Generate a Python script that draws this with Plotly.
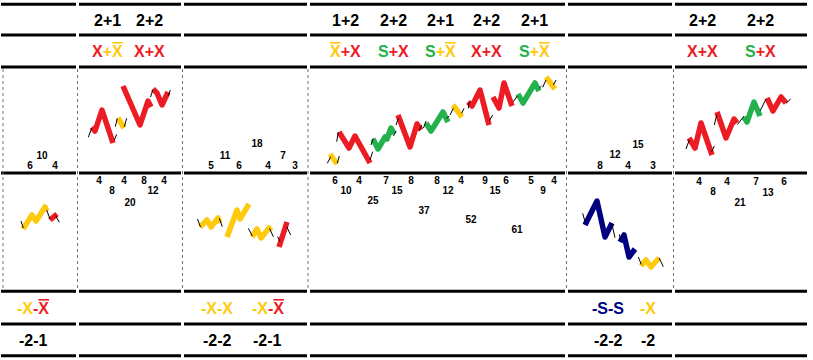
import plotly.graph_objects as go

RED = "#ED1C24"
YEL = "#FFC90E"
GRN = "#22B14C"
NAV = "#000080"

# ---------------- wave segments (x = time position, y = price level, screen-down) ----------------
up2_x = [[92, 95, 102, 113], [118, 124], [123, 140, 148, 151], [153, 157, 162, 168]]
up2_y = [[127, 131, 110, 143], [118, 128], [86, 125, 101, 107], [89, 93, 105, 92]]
up2_c = [RED, YEL, RED, RED]

up4_x = [[330, 337], [339, 349, 355, 370], [373, 378, 385, 387, 391, 394], [398, 410, 417, 421],
         [426, 431, 443, 448], [453, 462], [468, 472, 480, 489], [493, 499, 504, 512],
         [518, 523, 535, 539], [546, 555]]
up4_y = [[154, 164], [132, 148, 136, 163], [139, 149, 137, 139, 128, 134], [115, 147, 124, 130],
         [123, 131, 112, 122], [105, 117], [102, 106, 90, 125], [97, 108, 83, 106],
         [94, 103, 83, 91], [77, 89]]
up4_c = [YEL, RED, GRN, RED, GRN, YEL, RED, RED, GRN, YEL]

up6_x = [[689, 695, 701, 712], [717, 726, 734, 737], [744, 747, 754, 760], [767, 773, 781, 786]]
up6_y = [[138, 148, 123, 155], [112, 138, 119, 123], [117, 122, 102, 116], [98, 111, 97, 103]]
up6_c = [RED, RED, GRN, RED]

dn1_x = [[23, 32, 36, 45, 47], [50, 57]]
dn1_y = [[229, 215, 221, 207, 211], [220, 214]]
dn1_c = [YEL, RED]

dn3_x = [[200, 207, 211, 218, 220], [227, 237, 240, 249], [252, 257, 261, 269, 271], [279, 287]]
dn3_y = [[227, 220, 227, 218, 223], [237, 210, 219, 204], [237, 229, 238, 228, 231], [247, 222]]
dn3_c = [YEL, YEL, YEL, RED]

dn5_x = [[585, 597, 605, 612], [620, 624, 629, 635], [641, 646, 651, 659]]
dn5_y = [[225, 201, 237, 223], [242, 235, 257, 249], [266, 260, 267, 258]]
dn5_c = [NAV, NAV, YEL]

# thin black link ticks: (x0, y0, x1, y1)
ticks = [
    (21, 221, 23.3, 228), (46.7, 210, 50, 219), (55.7, 215.7, 59.3, 222.3),
    (88.3, 137.3, 91.7, 128.3), (114.3, 140, 116.7, 134.3), (115.3, 126.7, 117.3, 118.3),
    (124.3, 126.7, 126.7, 118.3), (150.5, 97, 153, 89.5), (168.3, 95.7, 170.3, 90),
    (197.5, 219, 200.5, 227), (219.3, 218.3, 222.3, 226.7), (248.3, 228.3, 252.3, 236),
    (269.5, 228.3, 273.3, 236.7), (277.7, 236.7, 280, 241.7), (286.7, 226.7, 290.7, 235),
    (327.3, 163.3, 330.7, 156.7), (337.3, 163.3, 339.3, 156), (336.7, 141.7, 338.3, 132),
    (370, 160, 372.7, 151.7), (371, 145, 373.3, 138.3), (393.5, 136, 396, 131),
    (396, 125, 398.3, 118.3), (419.3, 130.7, 421.7, 125), (423.5, 128, 426, 121),
    (446.7, 118.3, 449.3, 116), (450, 115, 453.3, 108.3), (461.7, 113.3, 464, 108.3),
    (468.3, 108.3, 469.3, 101.7), (489.3, 120.7, 492.7, 115), (513.3, 101.7, 517.3, 96),
    (539.3, 88, 541.5, 86), (542.7, 87.3, 546, 80), (553.3, 85, 556, 80),
    (582.7, 213.3, 585, 221.7), (611.7, 223.3, 615, 237.7), (619.3, 234.3, 620.7, 240),
    (638.3, 257, 641.3, 264.5), (659, 257.7, 663.3, 266.7),
    (686, 149, 689.3, 140), (711.7, 151.7, 714.3, 146), (714.3, 125, 716.7, 115),
    (737.5, 124.5, 744, 116), (760, 111, 766, 99), (786, 103.3, 790.7, 99),
]

# ---------------- count numbers ----------------
num_up_vals = [6, 10, 4, 5, 11, 6, 18, 4, 7, 3, 8, 12, 4, 15, 3]
num_up_x = [30, 42, 55, 211, 225, 239, 257, 268, 283, 295, 600, 615, 628, 638, 653]
num_up_y = [166, 156, 166, 166, 156, 166, 144.5, 166, 156, 166, 166, 155, 166, 145, 166]

num_dn_vals = [4, 8, 4, 20, 8, 12, 4,
               6, 10, 4, 25, 7, 15, 8, 37, 8, 12, 4, 52, 9, 15, 6, 61, 5, 9, 4,
               4, 8, 4, 21, 7, 13, 6]
num_dn_x = [99, 112, 124, 130, 144, 153, 164,
            335, 346, 359, 373, 386, 397, 411, 424, 437, 448, 461, 471, 485, 495, 506, 517, 531, 543, 554,
            699, 713, 727, 740, 756, 768, 784]
num_dn_y = [181, 191, 181, 203, 181, 191, 181,
            181, 191, 181, 201, 181, 191, 181, 211, 181, 191, 181, 220.5, 181, 191.5, 181, 230, 181, 191, 181,
            182, 192, 182, 203, 182, 193, 182]

# ---------------- header / footer labels ----------------
up_count_labels = ["2+1", "2+2", "1+2", "2+2", "2+1", "2+2", "2+1", "2+2", "2+2"]
up_type_labels = ["X+X\u0304", "X+X", "X\u0304+X", "S+X", "S+X\u0304", "X+X", "S+X\u0304", "X+X", "S+X"]
up_label_x = [107.5, 149.5, 345, 393, 440, 486, 534.5, 702, 760]

dn_type_labels = ["-X-X\u0304", "-X-X", "-X-X\u0304", "-S-S", "-X"]
dn_count_labels = ["-2-1", "-2-2", "-2-1", "-2-2", "-2"]
dn_label_x = [33, 217, 267.5, 608, 648]

UP_COL = {"X": RED, "X\u0304": YEL, "S": GRN}
DN_COL = {"X": YEL, "X\u0304": RED, "S": NAV}

rule_y = [4.2, 35, 67, 173, 291.3, 324, 355.8]
col_edges = [(1, 76), (79, 181), (184, 307), (310, 565), (568, 672), (675, 807)]
grid_x = [3, 77.5, 182.5, 308, 566.5, 673.5]


def symbols(lbl):
    out = []
    for ch in lbl:
        if ch == "\u0304":
            out[-1] = out[-1] + ch
        else:
            out.append(ch)
    return out


def render(lbl, cmap):
    syms = symbols(lbl)
    parts = []
    for i, s in enumerate(syms):
        if s in "+-":
            col = cmap[syms[i + 1]]
            parts.append(f"<span style='color:{col}'>{s}</span>")
        else:
            col = cmap[s]
            if s.endswith("\u0304"):
                parts.append(f"<span style='color:{col};text-decoration:overline'>{s[0]}</span>")
            else:
                parts.append(f"<span style='color:{col}'>{s}</span>")
    return "<b>" + "".join(parts) + "</b>"


fig = go.Figure()

for xs_list, ys_list, cs in [(up2_x, up2_y, up2_c), (up4_x, up4_y, up4_c), (up6_x, up6_y, up6_c),
                             (dn1_x, dn1_y, dn1_c), (dn3_x, dn3_y, dn3_c), (dn5_x, dn5_y, dn5_c)]:
    for xs, ys, c in zip(xs_list, ys_list, cs):
        fig.add_trace(go.Scatter(x=xs, y=ys, mode="lines", line=dict(color=c, width=5.5),
                                 hoverinfo="skip"))

tx, ty = [], []
for x0, y0, x1, y1 in ticks:
    tx += [x0, x1, None]
    ty += [y0, y1, None]
fig.add_trace(go.Scatter(x=tx, y=ty, mode="lines", line=dict(color="black", width=1), hoverinfo="skip"))

numfont = dict(family="Liberation Sans, Arial", size=10, color="black", weight="bold")
fig.add_trace(go.Scatter(x=num_up_x, y=num_up_y, mode="text", text=[str(v) for v in num_up_vals],
                         textposition="middle center", textfont=numfont, hoverinfo="skip"))
fig.add_trace(go.Scatter(x=num_dn_x, y=num_dn_y, mode="text", text=[str(v) for v in num_dn_vals],
                         textposition="middle center", textfont=numfont, hoverinfo="skip"))

shapes = []
for y in rule_y:
    for a, b in col_edges:
        shapes.append(dict(type="line", x0=a, x1=b, y0=y, y1=y, line=dict(color="black", width=3)))
for x in grid_x:
    shapes.append(dict(type="line", x0=x, x1=x, y0=69, y1=289.5,
                       line=dict(color="#707070", width=1, dash="3px,3px")))

lblfont = dict(family="Liberation Sans, Arial", size=16, color="black")
ann = []
for x, t in zip(up_label_x, up_count_labels):
    ann.append(dict(x=x, y=20, text=f"<b>{t}</b>", font=lblfont))
for x, t in zip(up_label_x, up_type_labels):
    ann.append(dict(x=x, y=51, text=render(t, UP_COL), font=lblfont))
for x, t in zip(dn_label_x, dn_type_labels):
    ann.append(dict(x=x, y=308.5, text=render(t, DN_COL), font=lblfont))
for x, t in zip(dn_label_x, dn_count_labels):
    ann.append(dict(x=x, y=340.5, text=f"<b>{t}</b>", font=lblfont))
for a in ann:
    a.update(showarrow=False, xanchor="center", yanchor="middle", xref="x", yref="y")

fig.update_layout(
    width=813, height=360, margin=dict(l=0, r=0, t=0, b=0),
    paper_bgcolor="white", plot_bgcolor="white", showlegend=False,
    xaxis=dict(range=[0, 813], visible=False, fixedrange=True),
    yaxis=dict(range=[360, 0], visible=False, fixedrange=True),
    shapes=shapes, annotations=ann,
)

fig.write_html(
    "out.html",
    config={"displayModeBar": False},
    post_script="document.body.style.margin='0';document.body.style.overflow='hidden';"
                "document.querySelectorAll('.scatterlayer path.js-line').forEach(function(p){"
                "p.style.strokeLinejoin='round';});",
)
